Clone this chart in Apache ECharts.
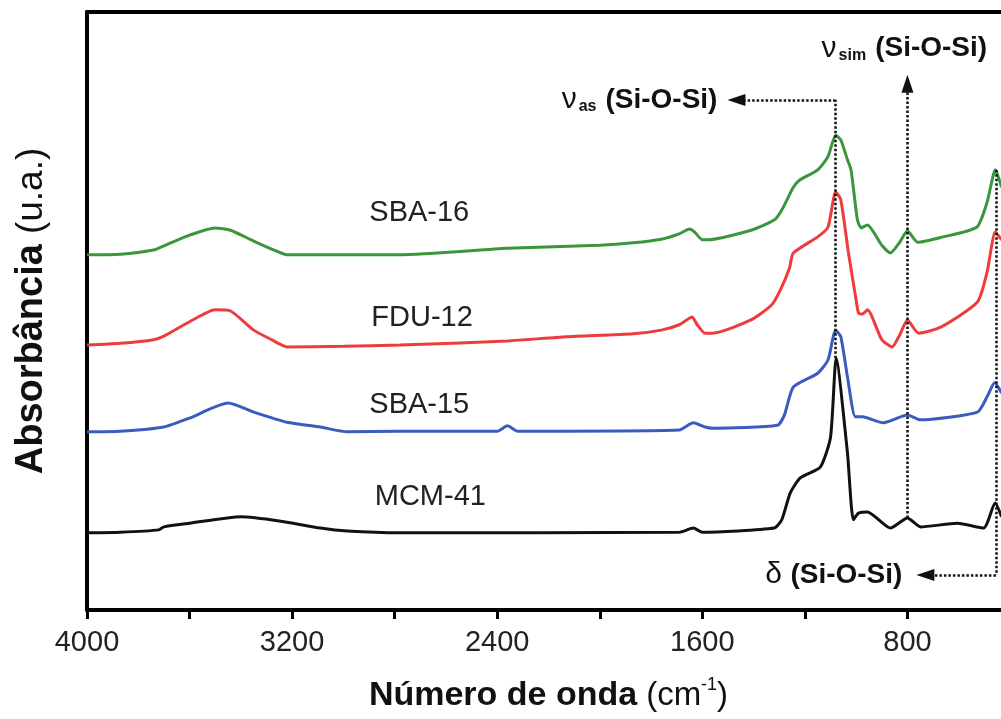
<!DOCTYPE html>
<html>
<head>
<meta charset="utf-8">
<script src="https://cdn.jsdelivr.net/npm/echarts@6/dist/echarts.min.js"></script>
<style>
  html, body { margin: 0; padding: 0; background: #fff; }
  #chart { width: 1001px; height: 719px; }
</style>
</head>
<body>
<div id="chart"></div>
<script>
// [wavenumber cm-1, absorbance u.a.] (spectra are offset)
const sba16 = [[4000,59.4],[3870,59.5],[3740,60.2],[3700,60.9],[3600,62.7],[3500,63.9],[3440,63.5],[3350,61.7],[3260,60.0],[3220,59.4],[3000,59.4],[2780,59.4],[2360,60.5],[2000,61.0],[1870,61.4],[1760,62.0],[1690,62.9],[1650,63.7],[1630,63.2],[1600,61.9],[1580,61.9],[1410,63.5],[1320,65.2],[1290,66.9],[1245,70.7],[1220,71.9],[1150,73.6],[1110,75.8],[1080,79.4],[1060,78.6],[1034,75.3],[1020,73.6],[995,65.2],[980,63.9],[956,64.4],[900,61.0],[866,59.7],[830,61.5],[800,63.4],[760,61.5],[670,62.3],[530,64.0],[490,68.1],[457,73.6],[433,70.7]];
const fdu12 = [[4000,44.3],[3870,44.6],[3740,45.2],[3700,45.8],[3600,48.2],[3500,50.2],[3440,50.0],[3350,46.8],[3280,45.2],[3220,44.0],[3000,44.1],[2780,44.3],[2360,45.0],[2130,45.7],[1870,46.2],[1760,46.8],[1690,47.7],[1640,49.0],[1620,47.7],[1590,46.3],[1560,46.3],[1410,48.5],[1330,51.0],[1296,53.5],[1260,57.2],[1245,59.7],[1150,62.4],[1110,64.0],[1080,69.9],[1060,68.6],[1030,59.7],[1000,51.8],[991,49.7],[975,49.5],[956,50.2],[900,45.2],[860,44.0],[830,46.0],[800,48.5],[757,46.3],[670,47.3],[527,51.5],[490,56.4],[457,63.2],[433,61.9]];
const sba15 = [[4000,29.8],[3870,29.9],[3700,30.6],[3600,32.1],[3450,34.6],[3350,33.1],[3220,31.4],[3090,30.6],[2985,29.8],[2780,29.9],[2400,29.9],[2360,30.8],[2320,29.9],[1690,30.1],[1635,31.3],[1590,30.6],[1560,30.4],[1307,30.9],[1280,32.6],[1245,37.3],[1150,39.6],[1110,41.8],[1080,46.8],[1060,45.7],[1034,39.0],[1003,32.3],[976,32.3],[894,31.3],[800,32.6],[750,31.8],[527,33.1],[490,35.6],[460,38.0],[433,36.3]];
const mcm41 = [[4000,12.9],[3870,13.0],[3720,13.4],[3700,13.9],[3600,14.5],[3400,15.6],[3250,14.9],[3090,13.7],[2985,13.2],[2780,12.9],[1690,13.0],[1635,13.7],[1600,13.0],[1320,13.7],[1290,15.1],[1257,19.6],[1218,22.1],[1140,23.9],[1100,28.9],[1078,42.1],[1034,26.3],[1011,15.1],[991,16.2],[956,16.4],[866,13.7],[800,15.4],[749,13.9],[605,14.5],[503,13.7],[458,17.9],[433,15.6]];

const seriesNames = ['SBA-16', 'FDU-12', 'SBA-15', 'MCM-41'];
const xTickLabels = [4000, 3200, 2400, 1600, 800];

const FONT = '"Liberation Sans", Arial, Helvetica, sans-serif';
const colors = ['#3a963a', '#ee3b3b', '#3b5cbf', '#111111'];
// where each sample name sits (wavenumber, absorbance)
const nameSpots = [[2704, 66.4], [2693, 48.8], [2704, 34.3], [2661, 18.9]];

const chart = echarts.init(document.getElementById('chart'));

const dotted = { color: '#111', width: 2.5, type: [2.5, 2] };
const annRich = {
  nu: { fontFamily: FONT, fontSize: 30, color: '#111', lineHeight: 30 },
  sub: { fontFamily: FONT, fontSize: 16, fontWeight: 'bold', color: '#111', verticalAlign: 'bottom', lineHeight: 16, padding: [0, 9, 0, 2] },
  b: { fontFamily: FONT, fontSize: 28, fontWeight: 'bold', color: '#111', lineHeight: 30 }
};
const arrowEnd = { symbol: 'triangle', symbolSize: [12, 18] };
function seg(a, b, arrow) {
  const to = Object.assign({ coord: b, symbol: 'none' }, arrow ? arrowEnd : {});
  return [{ coord: a, symbol: 'none' }, to];
}
function note(at, text, pos, dist) {
  return {
    coord: at,
    label: { show: true, position: pos, distance: dist, formatter: text, rich: annRich }
  };
}

const allData = [sba16, fdu12, sba15, mcm41];
const series = allData.map(function (d, i) {
  return {
    name: seriesNames[i],
    type: 'line',
    data: d,
    showSymbol: false,
    smooth: 0.2,
    z: 3,
    lineStyle: { color: colors[i], width: 3 },
    itemStyle: { color: colors[i] },
    markPoint: {
      symbol: 'circle', symbolSize: 0, silent: true,
      data: [{ coord: nameSpots[i] }],
      label: {
        show: true, position: 'inside', formatter: seriesNames[i],
        fontFamily: FONT, fontSize: 29, color: '#222'
      }
    }
  };
});

// peak assignment guides
series[3].markLine = {
  silent: true,
  animation: false,
  symbol: ['none', 'none'],
  lineStyle: dotted,
  label: { show: false },
  data: [
    seg([1080, 42.1], [1080, 85.3]),
    seg([1080, 85.3], [1467, 85.3], true),
    seg([800, 15.4], [800, 88.0], true),
    seg([455, 73.6], [455, 5.85]),
    seg([455, 5.85], [730, 5.85], true)
  ]
};
series[3].markPoint.data = series[3].markPoint.data.concat([
  note([1467, 85.3], '{nu|ν}{sub|as}{b|(Si-O-Si)}', 'left', 19),
  note([812, 88.0], '{nu|ν}{sub|sim}{b|(Si-O-Si)}', 'top', 20),
  note([730, 5.85], '{nu|δ }{b|(Si-O-Si)}', 'left', 23)
]);

const option = {
  animation: false,
  grid: { left: 87, top: 12, width: 923, bottom: 109, outerBoundsMode: 'none', containLabel: false },
  xAxis: [{
    type: 'value', min: 400, max: 4000, interval: 400, inverse: true,
    name: '{b|Número de onda}{r|(cm}{sup|-1}{r|)}',
    nameLocation: 'middle', nameGap: 66,
    nameTextStyle: {
      rich: {
        b: { fontFamily: FONT, fontSize: 34, fontWeight: 'bold', color: '#111', lineHeight: 40, padding: [0, 9, 0, 0] },
        r: { fontFamily: FONT, fontSize: 33, color: '#111', lineHeight: 40 },
        sup: { fontFamily: FONT, fontSize: 18, color: '#111', verticalAlign: 'top', lineHeight: 22 }
      }
    },
    axisLine: { lineStyle: { color: '#000', width: 4 } },
    axisTick: { length: 9, lineStyle: { color: '#000', width: 3 } },
    axisLabel: {
      margin: 18, fontFamily: FONT, fontSize: 29, color: '#222',
      formatter: function (v) { return xTickLabels.indexOf(v) >= 0 ? String(v) : ''; }
    },
    splitLine: { show: false }
  }, {
    type: 'value', min: 400, max: 4000, inverse: true, position: 'top',
    axisLine: { show: true, lineStyle: { color: '#000', width: 4 } },
    axisTick: { show: false }, axisLabel: { show: false }, splitLine: { show: false }
  }],
  yAxis: {
    type: 'value', min: 0, max: 100,
    name: '{b|Absorbância}{r|(u.a.)}',
    nameLocation: 'middle', nameGap: 36,
    nameTextStyle: {
      rich: {
        b: { fontFamily: FONT, fontSize: 38, fontWeight: 'bold', color: '#111', padding: [0, 10, 0, 0] },
        r: { fontFamily: FONT, fontSize: 37, color: '#111' }
      }
    },
    axisLine: { show: true, lineStyle: { color: '#000', width: 4 } },
    axisTick: { show: false }, axisLabel: { show: false }, splitLine: { show: false }
  },
  series: series
};

chart.setOption(option);
</script>
</body>
</html>
